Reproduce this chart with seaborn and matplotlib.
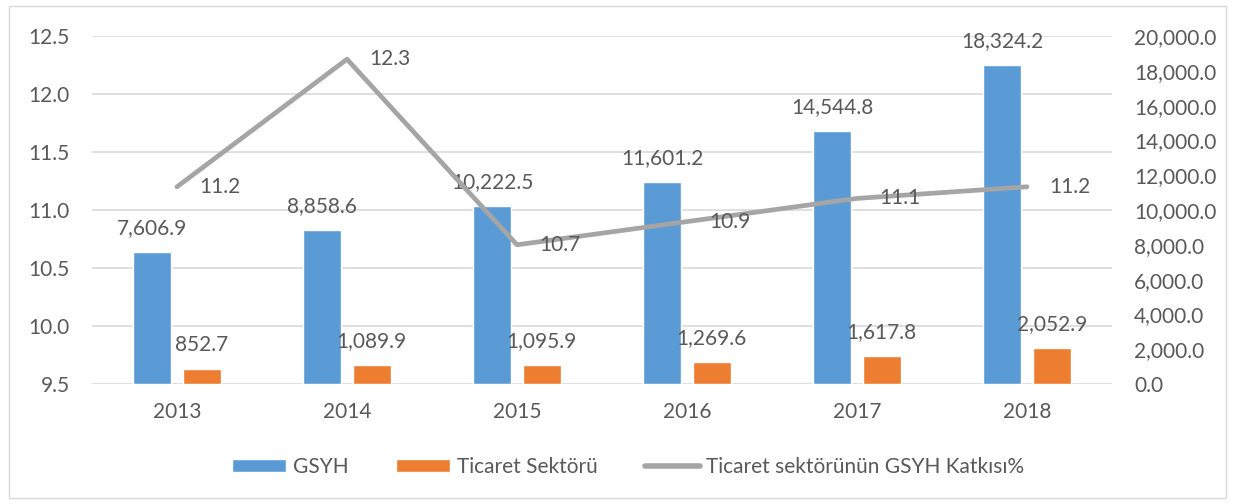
import matplotlib
matplotlib.use('Agg')
import matplotlib.pyplot as plt
import seaborn as sns
import numpy as np
import pandas as pd
from matplotlib.ticker import MultipleLocator, FuncFormatter
from matplotlib.patches import Rectangle, Patch
from matplotlib.lines import Line2D

years = ['2013', '2014', '2015', '2016', '2017', '2018']
gsyh = [7606.9, 8858.6, 10222.5, 11601.2, 14544.8, 18324.2]
ticaret = [852.7, 1089.9, 1095.9, 1269.6, 1617.8, 2052.9]
katki = [11.2, 12.3, 10.7, 10.9, 11.1, 11.2]
series_names = ['GSYH', 'Ticaret Sektörü', 'Ticaret sektörünün GSYH Katkısı%']

BLUE = '#5B9BD5'
ORANGE = '#ED7D31'
GRAY = '#A5A5A5'
TXT = '#595959'
FS = 15

df = pd.DataFrame({
    'Yıl': years * 2,
    'Değer': gsyh + ticaret,
    'Seri': [series_names[0]] * len(years) + [series_names[1]] * len(years),
})

sns.set_theme(style='white')
plt.rcParams['font.family'] = ['Lato', 'DejaVu Sans']

fig = plt.figure(figsize=(12.34, 5.04), dpi=100)
ax = fig.add_axes([92 / 1234, 1 - 384 / 504, (1112 - 92) / 1234, (384 - 36) / 504])

sns.barplot(data=df, x='Yıl', y='Değer', hue='Seri', palette=[BLUE, ORANGE],
            width=0.58, gap=0.23, saturation=1, ax=ax, legend=False)
ax.set_xlim(-0.5, len(years) - 0.5)
ax.set_ylim(0, 20000)
ax.yaxis.set_major_locator(MultipleLocator(2000))
ax.yaxis.set_major_formatter(FuncFormatter(lambda v, p: f'{v:,.1f}'))
ax.yaxis.set_minor_locator(MultipleLocator(20000 / 6))
ax.yaxis.remove_overlapping_locs = False
ax.grid(False)
ax.grid(which='minor', axis='y', color='#D9D9D9', linewidth=1.2)
ax.set_axisbelow(True)
ax.set_xlabel('')
ax.set_ylabel('')
for s in ax.spines.values():
    s.set_visible(False)

for cont, vals in zip(ax.containers, [gsyh, ticaret]):
    ax.bar_label(cont, labels=[f'{v:,.1f}' for v in vals], padding=10,
                 fontsize=FS, color=TXT)

ax2 = ax.twinx()
sns.lineplot(x=np.arange(len(years)), y=katki, ax=ax2, color=GRAY, linewidth=3.4)
ax2.set_xlim(-0.5, len(years) - 0.5)
ax2.set_ylim(9.5, 12.5)
ax2.yaxis.set_major_locator(MultipleLocator(0.5))
ax2.yaxis.set_major_formatter(FuncFormatter(lambda v, p: f'{v:.1f}'))
ax2.grid(False)
ax2.set_ylabel('')
for s in ax2.spines.values():
    s.set_visible(False)

# bars' axis on the right, line's axis on the left
ax.yaxis.tick_right()
ax.yaxis.set_label_position('right')
ax2.yaxis.tick_left()
ax2.yaxis.set_label_position('left')
ax.tick_params(axis='y', which='both', length=0, pad=16, labelsize=FS, labelcolor=TXT,
               left=False, labelleft=False, right=False, labelright=True)
ax.tick_params(axis='x', length=0, pad=13, labelsize=FS, labelcolor=TXT)
ax2.tick_params(axis='y', length=0, pad=16, labelsize=FS, labelcolor=TXT,
                right=False, labelright=False, left=False, labelleft=True)

for i, v in enumerate(katki):
    ax2.annotate(f'{v:.1f}', (i, v), xytext=(16, 0), textcoords='offset points',
                 ha='left', va='center', fontsize=FS, color=TXT)

handles = [Patch(facecolor=BLUE), Patch(facecolor=ORANGE),
           Line2D([], [], color=GRAY, linewidth=4)]
fig.legend(handles, series_names, loc='center', bbox_to_anchor=(0.509, 1 - 467 / 504),
           ncol=3, frameon=False, fontsize=FS, handlelength=2.6, handleheight=0.6,
           handletextpad=0.3, columnspacing=2.3, labelcolor=TXT)

fig.add_artist(Rectangle((9 / 1234, 6 / 504), (1226 - 9) / 1234, (498 - 6) / 504,
                         transform=fig.transFigure, fill=False, edgecolor='#D9D9D9',
                         linewidth=1))

fig.savefig('out.png', dpi=100)
